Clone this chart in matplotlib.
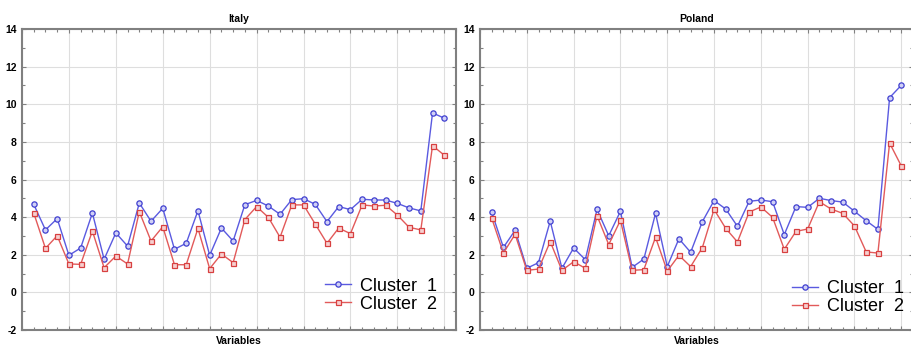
import numpy as np
import matplotlib.pyplot as plt
from matplotlib.ticker import MultipleLocator, NullFormatter

plt.rcParams['font.family'] = ['Liberation Sans', 'DejaVu Sans']
plt.rcParams['axes.unicode_minus'] = False

# 36 variables per country
variables = np.arange(1, 37)

italy_c1 = [4.68, 3.32, 3.92, 1.97, 2.36, 4.22, 1.76, 3.16, 2.46, 4.75,
            3.78, 4.47, 2.29, 2.61, 4.34, 1.97, 3.42, 2.73, 4.66, 4.89,
            4.59, 4.15, 4.93, 4.98, 4.68, 3.76, 4.56, 4.40, 4.95, 4.91,
            4.91, 4.73, 4.49, 4.33, 9.54, 9.26]
italy_c2 = [4.22, 2.34, 3.01, 1.51, 1.49, 3.26, 1.31, 1.93, 1.51, 4.29,
            2.73, 3.49, 1.47, 1.47, 3.40, 1.26, 2.04, 1.58, 3.87, 4.56,
            3.99, 2.93, 4.65, 4.65, 3.63, 2.61, 3.42, 3.12, 4.65, 4.59,
            4.63, 4.11, 3.46, 3.32, 7.80, 7.29]

poland_c1 = [4.26, 2.39, 3.30, 1.28, 1.58, 3.79, 1.28, 2.36, 1.74, 4.41,
             3.01, 4.31, 1.33, 1.77, 4.20, 1.37, 2.85, 2.13, 3.76, 4.88,
             4.43, 3.51, 4.84, 4.91, 4.82, 3.07, 4.56, 4.52, 5.00, 4.88,
             4.80, 4.31, 3.81, 3.35, 10.35, 11.01]
poland_c2 = [3.95, 2.09, 3.09, 1.17, 1.24, 2.70, 1.17, 1.63, 1.28, 4.08,
             2.54, 3.83, 1.17, 1.21, 2.93, 1.13, 1.97, 1.37, 2.38, 4.41,
             3.40, 2.68, 4.27, 4.54, 3.99, 2.29, 3.24, 3.37, 4.82, 4.43,
             4.20, 3.53, 2.15, 2.09, 7.94, 6.72]

fig = plt.figure(figsize=(9.11, 3.45), dpi=100)
ax_it = fig.add_axes([22/911, 15/345, 434/911, 301/345])
ax_pl = fig.add_axes([480/911, 15/345, 433/911, 301/345])

panels = [
    (ax_it, "Italy", italy_c1, italy_c2, (0.956, 0.058)),
    (ax_pl, "Poland", poland_c1, poland_c2, (0.979, 0.05)),
]

for ax, title, c1, c2, leg_pos in panels:
    ax.plot(variables, c1, color='#5a5ae0', lw=1.0, marker='o', ms=3.8,
            mfc='#d0d0f6', mec='#4040d0', mew=0.9, label='Cluster  1', zorder=3)
    ax.plot(variables, c2, color='#e25a5a', lw=1.0, marker='s', ms=3.6,
            mfc='#f6d0d0', mec='#d84040', mew=0.9, label='Cluster  2', zorder=3)

    ax.set_xlim(0, 37)
    ax.set_ylim(-2, 14)
    ax.xaxis.set_major_locator(MultipleLocator(4))
    ax.xaxis.set_minor_locator(MultipleLocator(1))
    ax.xaxis.set_major_formatter(NullFormatter())
    ax.yaxis.set_major_locator(MultipleLocator(2))
    ax.yaxis.set_minor_locator(MultipleLocator(1))

    ax.grid(True, which='major', color='#dedede', lw=0.8)
    ax.tick_params(which='both', direction='in', top=True, right=True,
                   color='#808080', width=0.8)
    ax.tick_params(which='major', length=3)
    ax.tick_params(which='minor', length=2.5)
    ax.tick_params(axis='y', labelsize=7.5, pad=4)
    for lab in ax.get_yticklabels():
        lab.set_fontweight('bold')
    for sp in ax.spines.values():
        sp.set_color('#808080')
        sp.set_linewidth(1.5)

    ax.set_title(title, fontsize=7.5, fontweight='bold', pad=5)
    ax.set_xlabel("Variables", fontsize=7.5, fontweight='bold', labelpad=0.5)

    ax.legend(loc='lower right', bbox_to_anchor=leg_pos, frameon=False,
              fontsize=13, handlelength=1.45, handletextpad=0.5,
              labelspacing=0.05, borderpad=0, borderaxespad=0)

plt.savefig("out.png", dpi=100)
